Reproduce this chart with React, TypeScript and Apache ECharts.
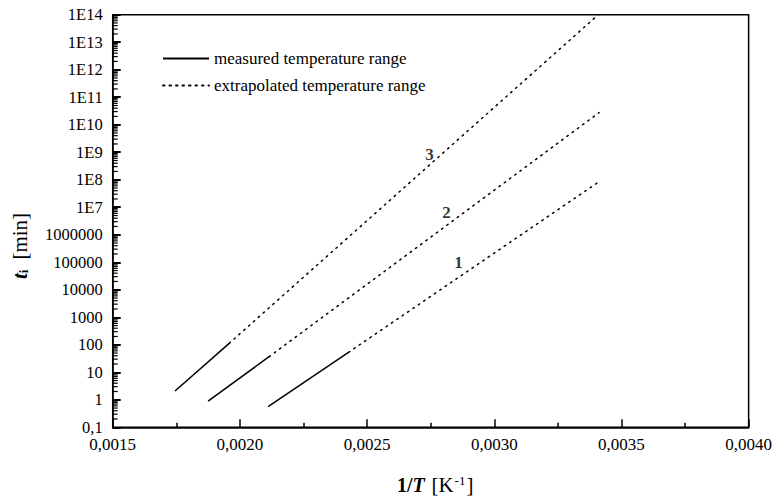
import React, { useEffect, useRef } from "react";
import * as echarts from "echarts";

// Curve 1, 2, 3: measured (solid) and extrapolated (dotted) parts  [1/T, t_i]
const measured1 = [[0.002111, 0.56], [0.002427, 53]];
const extrap1 = [[0.002427, 53], [0.003412, 8.5e7]];
const measured2 = [[0.001875, 0.9], [0.002115, 36.9]];
const extrap2 = [[0.002115, 36.9], [0.003412, 2.75e10]];
const measured3 = [[0.001745, 2.09], [0.001958, 113]];
const extrap3 = [[0.001958, 113], [0.003409, 1e14]];

// curve number labels [x, y, text]
const curveLabels = [
  [0.002859, 9.4e4, "1"],
  [0.002812, 6.2e6, "2"],
  [0.002745, 8e8, "3"],
];

const xTicks = ["0,0015", "0,0020", "0,0025", "0,0030", "0,0035", "0,0040"];
const yDecades = [-1, 0, 1, 2, 3, 4, 5, 6, 7, 8, 9, 10, 11, 12, 13];
const minorMultipliers = [2, 3, 4, 5, 6, 7, 8, 9];

const SERIF = "Liberation Serif";

export default function App() {
  const ref = useRef<HTMLDivElement>(null);
  useEffect(() => {
    document.body.style.margin = "0";
    if (!ref.current) return;
    const chart = echarts.init(ref.current, null, { renderer: "svg" });
    const minorData: number[][] = [];
    yDecades.forEach((d) =>
      minorMultipliers.forEach((m) => minorData.push([0.0015, m * Math.pow(10, d)]))
    );
    const solid = { type: "solid", width: 1.5, color: "#000" };
    const dotted = { type: [1.5, 5], width: 1.5, color: "#000", cap: "round" };
    const mkLine = (name: string, data: number[][], ls: any) => ({
      type: "line",
      name,
      data,
      symbol: "none",
      lineStyle: ls,
      itemStyle: { color: "#000" },
      silent: true,
    });
    chart.setOption({
      animation: false,
      textStyle: { fontFamily: SERIF },
      grid: {
        left: 112.7,
        right: 25.7,
        top: 14.7,
        bottom: 69.7,
        show: true,
        borderColor: "#000",
        borderWidth: 1.5,
        backgroundColor: "transparent",
      },
      legend: {
        data: ["measured temperature range", "extrapolated temperature range"],
        orient: "vertical",
        left: 157,
        top: 45,
        itemWidth: 46,
        itemHeight: 17,
        itemGap: 10,
        selectedMode: false,
        itemStyle: { opacity: 0 },
        textStyle: { fontFamily: SERIF, fontSize: 17, color: "#000", lineHeight: 17 },
      },
      xAxis: {
        type: "value",
        min: 0.0015,
        max: 0.004,
        interval: 0.0005,
        axisLine: { lineStyle: { color: "#000", width: 1.5 } },
        axisTick: { inside: true, length: 8, lineStyle: { color: "#000", width: 1.5 } },
        minorTick: { show: true, splitNumber: 2, length: 4.5, lineStyle: { color: "#000", width: 1.5 } },
        splitLine: { show: false },
        axisLabel: {
          fontFamily: SERIF,
          fontSize: 17,
          color: "#000",
          margin: 9,
          formatter: (v: number) => xTicks[Math.round((v - 0.0015) / 0.0005)] ?? "",
        },
      },
      yAxis: {
        type: "log",
        logBase: 10,
        min: 0.1,
        max: 1e14,
        interval: 1,
        axisLine: { lineStyle: { color: "#000", width: 1.5 } },
        axisTick: { show: true, inside: true, length: 8, lineStyle: { color: "#000", width: 2 } },
        splitLine: { show: false },
        axisLabel: {
          fontFamily: SERIF,
          fontSize: 16.5,
          color: "#000",
          margin: 10,
          formatter: (v: number) => {
            const e = Math.round(Math.log10(v));
            if (e < 0) return "0,1";
            if (e <= 6) return String(Math.pow(10, e));
            return "1E" + e;
          },
        },
      },
      series: [
        mkLine("measured temperature range", measured1, solid),
        mkLine("extrapolated temperature range", extrap1, dotted),
        mkLine("measured temperature range", measured2, solid),
        mkLine("extrapolated temperature range", extrap2, dotted),
        mkLine("measured temperature range", measured3, solid),
        mkLine("extrapolated temperature range", extrap3, dotted),
        {
          type: "scatter",
          name: "labels",
          data: curveLabels,
          symbolSize: 1,
          itemStyle: { color: "rgba(0,0,0,0)" },
          silent: true,
          label: {
            show: true,
            position: "inside",
            formatter: (p: any) => p.data[2],
            fontFamily: SERIF,
            fontWeight: "bold",
            fontSize: 17,
            color: "#000",
          },
        },
        {
          type: "custom",
          name: "minorTicks",
          data: minorData,
          encode: { x: 0, y: 1 },
          clip: false,
          silent: true,
          z: 10,
          renderItem: (params: any, api: any) => {
            const p = api.coord([api.value(0), api.value(1)]);
            return {
              type: "line",
              shape: { x1: p[0], y1: p[1], x2: p[0] + 5, y2: p[1] },
              style: { stroke: "#000", lineWidth: 1.2 },
            };
          },
        },
      ],
      graphic: [
        {
          type: "text",
          left: 397,
          top: 474,
          style: {
            text: "{b|1/}{bi|T}  {n|[K}{sup|-1}{n|]}",
            rich: {
              b: { fontFamily: SERIF, fontSize: 20, fontWeight: "bold", fill: "#000" },
              bi: { fontFamily: SERIF, fontSize: 20, fontWeight: "bold", fontStyle: "italic", fill: "#000" },
              n: { fontFamily: SERIF, fontSize: 21, fill: "#000" },
              sup: { fontFamily: SERIF, fontSize: 13, fill: "#000", verticalAlign: "top", padding: [0, 1, 0, 1] },
            },
          },
        },
        {
          type: "text",
          x: 9,
          y: 279,
          rotation: Math.PI / 2,
          style: {
            text: "{bi|t}{sub|i}   {n|[min]}",
            rich: {
              bi: { fontFamily: SERIF, fontSize: 21, fontWeight: "bold", fontStyle: "italic", fill: "#000" },
              sub: { fontFamily: SERIF, fontSize: 13, fontWeight: "bold", fill: "#000", verticalAlign: "bottom" },
              n: { fontFamily: SERIF, fontSize: 21, fill: "#000" },
            },
          },
        },
      ],
    });
    return () => chart.dispose();
  }, []);
  return <div ref={ref} style={{ width: 775, height: 497 }} />;
}
